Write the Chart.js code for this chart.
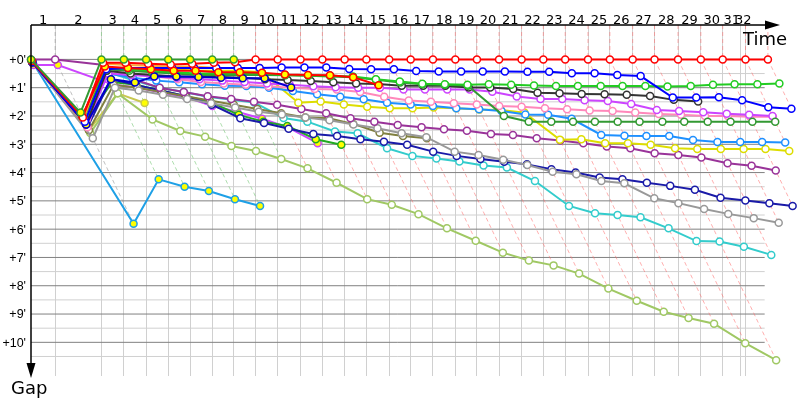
<!DOCTYPE html>
<html>
<head>
<meta charset="utf-8">
<script src="https://cdn.jsdelivr.net/npm/chart.js@4.4.1/dist/chart.umd.min.js"></script>
<style>
  html, body { margin: 0; background: #fff; }
</style>
</head>
<body>
<canvas id="gapChart" width="800" height="400"></canvas>
<script>
// leader time (minutes) at the end of each lap, lap 0 = start
const lapTimes = [0, 1.79, 5.22, 6.88, 8.53, 10.17, 11.79, 13.43, 15.02, 16.64, 18.28, 19.97, 21.59, 23.24, 24.85, 26.54,
  28.13, 29.78, 31.44, 33.04, 34.68, 36.35, 37.96, 39.58, 41.27, 42.89, 44.58, 46.20, 47.94, 49.63, 51.25, 52.94, 54.60];
const finishTime = 52.60;
const lapLabels = ['1','2','3','4','5','6','7','8','9','10','11','12','13','14','15','16',
  '17','18','19','20','21','22','23','24','25','26','27','28','29','30','31','32'];
const gapTicks = [0, 1, 2, 3, 4, 5, 6, 7, 8, 9, 10];

// gap to the leader (minutes) per lap, lap 0 = start
const redGaps = [0.05, 2.05, 0.12, 0.12, 0.15, 0.18, 0.15, 0.12, 0.1, 0, 0, 0, 0, 0, 0, 0, 0, 0, 0, 0, 0, 0, 0, 0, 0, 0, 0, 0, 0, 0, 0, 0, 0];
const blueGaps = [0.1, 2.2, 0.35, 0.3, 0.3, 0.3, 0.3, 0.3, 0.3, 0.3, 0.29, 0.29, 0.29, 0.34, 0.35, 0.35, 0.41, 0.43, 0.43, 0.43, 0.43,
  0.435, 0.435, 0.49, 0.49, 0.55, 0.59, 1.35, 1.35, 1.34, 1.44, 1.69, 1.74];
const limeGaps = [0.1, 2.0, 0.3, 0.35, 0.4, 0.45, 0.5, 0.5, 0.5, 0.5, 0.55, 0.57, 0.58, 0.6, 0.7, 0.78, 0.86, 0.88, 0.9, 0.88,
  0.9, 0.92, 0.94, 0.94, 0.94, 0.94, 0.94, 0.96, 0.94, 0.90, 0.88, 0.88, 0.85];
const forestGaps = [0.1, 2.1, 0.35, 0.4, 0.45, 0.5, 0.55, 0.55, 0.55, 0.55, 0.56, 0.58, 0.6, 0.63, 0.72, 0.82, 0.88, 0.9, 0.93, 2.0,
  2.2, 2.2, 2.2, 2.2, 2.2, 2.2, 2.2, 2.2, 2.2, 2.2, 2.2, 2.2];
const blackGaps = [0.1, 2.3, 0.4, 0.5, 0.55, 0.6, 0.6, 0.62, 0.65, 0.7, 0.73, 0.76, 0.81, 0.85, 0.87, 0.93, 0.93, 0.93, 0.99, 0.99,
  1.05, 1.18, 1.2, 1.22, 1.23, 1.25, 1.29, 1.43, 1.49];
const violetGaps = [0.1, 2.3, 0.5, 0.55, 0.6, 0.65, 0.7, 0.75, 0.8, 0.85, 0.9, 0.95, 0.98, 1.0, 1.0, 1.06, 1.06, 1.06, 1.06, 1.14,
  1.31, 1.40, 1.40, 1.44, 1.47, 1.58, 1.79, 1.82, 1.87, 1.92, 1.96, 2.0];
const pinkGaps = [0.1, 2.4, 0.4, 0.5, 0.6, 0.7, 0.8, 0.85, 0.9, 0.95, 1.0, 1.05, 1.06, 1.15, 1.32, 1.45, 1.5, 1.55, 1.59, 1.65,
  1.67, 1.73, 1.76, 1.81, 1.82, 1.88, 1.93, 1.96, 2.0, 2.0, 2.03, 2.03];
const dodgerGaps = [0.1, 2.2, 0.5, 0.65, 0.75, 0.81, 0.88, 0.93, 0.94, 1.0, 1.12, 1.23, 1.32, 1.41, 1.53, 1.59, 1.65, 1.73, 1.76, 1.82,
  1.95, 1.96, 2.1, 2.67, 2.70, 2.71, 2.71, 2.85, 2.92, 2.92, 2.92, 2.94];
const yellowGaps = [0.1, 2.2, 0.3, 0.3, 0.35, 0.35, 0.4, 0.4, 0.4, 0.45, 1.53, 1.49, 1.59, 1.67, 1.73, 1.73, 1.70, 1.73, 1.77, 1.79,
  1.88, 2.84, 2.82, 2.96, 2.96, 3.02, 3.14, 3.17, 3.17, 3.17, 3.17, 3.24];
const purpleGaps = [0, 0, 0.2, 0.7, 1.0, 1.15, 1.3, 1.4, 1.5, 1.6, 1.75, 1.9, 2.08, 2.2, 2.32, 2.4, 2.47, 2.52, 2.64, 2.67,
  2.79, 2.87, 2.96, 3.08, 3.14, 3.32, 3.38, 3.47, 3.67, 3.76, 3.93];
const grayGaps = [0.1, 2.79, 1.0, 1.1, 1.25, 1.4, 1.55, 1.7, 1.85, 1.95, 2.05, 2.15, 2.3, 2.43, 2.61, 2.75, 3.26, 3.38, 3.55, 3.73,
  3.97, 4.06, 4.3, 4.38, 4.91, 5.08, 5.29, 5.46, 5.61, 5.77];
const oliveGaps = [0.1, 2.5, 0.9, 1.0, 1.15, 1.3, 1.45, 1.6, 1.75, 1.9, 2.05, 2.08, 2.28, 2.59, 2.71, 2.79];
const navyGaps = [0.1, 2.4, 0.7, 0.9, 1.1, 1.3, 1.6, 2.08, 2.25, 2.45, 2.64, 2.71, 2.82, 2.91, 3.02, 3.26, 3.41, 3.52, 3.62, 3.71,
  3.88, 4.0, 4.17, 4.24, 4.36, 4.47, 4.61, 4.89, 4.99, 5.08, 5.18];
const tealGaps = [0.1, 2.3, 0.45, 0.75, 1.0, 1.15, 1.32, 1.43, 1.52, 2.07, 2.2, 2.55, 2.61, 3.14, 3.41, 3.50, 3.61, 3.75, 3.82, 4.3,
  5.18, 5.44, 5.5, 5.58, 5.97, 6.42, 6.44, 6.62, 6.91];
const lightGreenGaps = [0.1, 2.6, 1.2, 2.12, 2.53, 2.73, 3.06, 3.24, 3.52, 3.85, 4.36, 4.94, 5.14, 5.47, 5.97, 6.41, 6.83, 7.11, 7.28, 7.57,
  8.10, 8.53, 8.92, 9.14, 9.34, 10.03, 10.63];
// retired cars
const skyGaps = [0.05, 5.81, 4.24, 4.5, 4.65, 4.94, 5.18];
const greenLeadGaps = [0, 1.88, 0, 0, 0, 0, 0, 0, 0];
const red2Gaps = [0.05, 2.0, 0.25, 0.3, 0.35, 0.4, 0.4, 0.45, 0.45, 0.47, 0.53, 0.55, 0.56, 0.63, 0.91];
const blue2Gaps = [0.1, 2.3, 0.7, 0.82, 0.6, 0.6, 0.62, 0.65, 0.67, 0.67, 0.99];
const green2Gaps = [0.1, 2.2, 0.8, 0.9, 1.1, 1.3, 1.5, 1.96, 2.2, 2.35, 2.82, 3.02];
const violet2Gaps = [0.2, 0.2, 0.9, 0.99, 1.18, 1.34, 1.65, 1.85, 2.1, 2.4, 2.96];
const khakiGaps = [0.1, 2.5, 1.2, 1.54];
const orangeGaps = [0.1, 2.1, 0.15, 0.2, 0.22, 0.25, 0.25, 0.3, 0.3, 0.3];

// styles, first one is drawn on top
const cars = [
  { gaps: greenLeadGaps, color: '#339933', out: true, dash: 'rgba(120,200,120,0.6)' },
  { gaps: redGaps, color: '#ff0000', out: false, dash: 'rgba(255,110,110,0.55)' },
  { gaps: red2Gaps, color: '#ff0000', out: true },
  { gaps: blueGaps, color: '#0000ff', out: false },
  { gaps: blue2Gaps, color: '#0000cc', out: true },
  { gaps: orangeGaps, color: '#ffaa33', out: true },
  { gaps: limeGaps, color: '#22cc22', out: false },
  { gaps: forestGaps, color: '#339933', out: false },
  { gaps: blackGaps, color: '#333333', out: false },
  { gaps: violetGaps, color: '#cc44ff', out: false },
  { gaps: pinkGaps, color: '#ff88bb', out: false },
  { gaps: dodgerGaps, color: '#1e90ff', out: false },
  { gaps: yellowGaps, color: '#dddd00', out: false },
  { gaps: purpleGaps, color: '#993399', out: false, dash: 'rgba(150,150,150,0.6)' },
  { gaps: grayGaps, color: '#999999', out: false },
  { gaps: oliveGaps, color: '#808040', out: false },
  { gaps: navyGaps, color: '#1a1aa8', out: false },
  { gaps: tealGaps, color: '#33cccc', out: false },
  { gaps: lightGreenGaps, color: '#a0c864', out: false },
  { gaps: green2Gaps, color: '#22aa22', out: true },
  { gaps: violet2Gaps, color: '#cc44ff', out: true },
  { gaps: khakiGaps, color: '#c8c850', out: true },
  { gaps: skyGaps, color: '#1ea0e6', out: true }
];

// axis extents (minutes)
const yMin = -1.216, yMax = 11.19, xMax = 56.57, gridEnd = 54.36;

const carSets = cars.map(c => ({
  data: c.gaps.map((g, i) => ({ x: lapTimes[i] + g, y: g })),
  showLine: true,
  borderColor: c.color,
  borderWidth: 2,
  pointRadius: 3.5,
  pointBorderWidth: 1.5,
  pointBorderColor: c.color,
  pointBackgroundColor: c.out ? '#ffff00' : '#ffffff',
  clip: false,
  order: 0
}));

// dashed lap guides: vertical to +0', then diagonal down to the last car of that lap
const guideSets = [];
for (let n = 1; n < lapTimes.length; n++) {
  let gmax = 0, lead = null, gmin = Infinity;
  cars.forEach(c => {
    const g = c.gaps[n];
    if (g === undefined) return;
    if (g > gmax) gmax = g;
    if (g < gmin && c.dash) { gmin = g; lead = c; }
  });
  guideSets.push({
    data: [{ x: lapTimes[n], y: yMin }, { x: lapTimes[n], y: 0 }, { x: lapTimes[n] + gmax, y: gmax }],
    showLine: true,
    borderColor: lead ? lead.dash : 'rgba(255,110,110,0.55)',
    borderWidth: 1,
    borderDash: [4, 3],
    pointRadius: 0,
    clip: false,
    order: 10
  });
}

// horizontal grid: full minutes dark, half minutes light
const yGrid = [];
for (let v = 0; v <= 10.5; v += 0.5) yGrid.push(v);
const gridSets = yGrid.map(v => ({
  data: [{ x: 0, y: v }, { x: gridEnd, y: v }],
  showLine: true,
  borderColor: v % 1 === 0 ? '#808080' : '#d0d0d0',
  borderWidth: 1,
  pointRadius: 0,
  order: 20
}));

const gridTimes = lapTimes.slice(1, 31).concat([finishTime, lapTimes[31]]);

const decor = {
  id: 'decor',
  afterDraw(chart) {
    const { ctx, chartArea: a, scales: { x, y } } = chart;
    ctx.save();
    ctx.strokeStyle = '#000';
    ctx.fillStyle = '#000';
    ctx.lineWidth = 1.5;
    // time axis
    ctx.beginPath();
    ctx.moveTo(a.left, a.top); ctx.lineTo(770, a.top); ctx.stroke();
    ctx.beginPath();
    ctx.moveTo(780, a.top); ctx.lineTo(765, a.top - 4.5); ctx.lineTo(765, a.top + 4.5); ctx.closePath(); ctx.fill();
    // gap axis
    ctx.beginPath();
    ctx.moveTo(a.left, a.top); ctx.lineTo(a.left, 368); ctx.stroke();
    ctx.beginPath();
    ctx.moveTo(a.left, 378); ctx.lineTo(a.left - 4.5, 363); ctx.lineTo(a.left + 4.5, 363); ctx.closePath(); ctx.fill();
    // lap labels between lap lines
    ctx.font = '13px "DejaVu Sans"';
    ctx.textAlign = 'center';
    ctx.textBaseline = 'alphabetic';
    const bounds = [0].concat(gridTimes);
    lapLabels.forEach((t, i) => {
      const px = (x.getPixelForValue(bounds[i]) + x.getPixelForValue(bounds[i + 1])) / 2;
      ctx.fillText(t, px, 24);
    });
    // gap labels
    ctx.font = '12.5px "Liberation Sans"';
    ctx.textAlign = 'right';
    ctx.textBaseline = 'middle';
    gapTicks.forEach(v => ctx.fillText("+" + v + "'", 26, y.getPixelForValue(v) + 1));
    ctx.font = '18px "DejaVu Sans"';
    ctx.textAlign = 'left';
    ctx.textBaseline = 'alphabetic';
    ctx.fillText('Time', 743, 45);
    ctx.fillText('Gap', 11, 394);
    ctx.restore();
  }
};

new Chart(document.getElementById('gapChart').getContext('2d'), {
  type: 'scatter',
  data: { datasets: gridSets.concat(guideSets, carSets) },
  options: {
    responsive: false,
    animation: false,
    layout: { padding: { left: 31, top: 25, right: 0, bottom: 24 } },
    plugins: { legend: { display: false }, tooltip: { enabled: false } },
    scales: {
      x: {
        type: 'linear', min: 0, max: xMax,
        afterBuildTicks: s => { s.ticks = gridTimes.map(v => ({ value: v })); },
        ticks: { display: false },
        grid: { color: '#d0d0d0', lineWidth: 1, drawTicks: false },
        border: { display: false }
      },
      y: {
        type: 'linear', reverse: true, min: yMin, max: yMax,
        ticks: { display: false },
        grid: { display: false, drawTicks: false },
        border: { display: false }
      }
    }
  },
  plugins: [decor]
});
</script>
</body>
</html>
